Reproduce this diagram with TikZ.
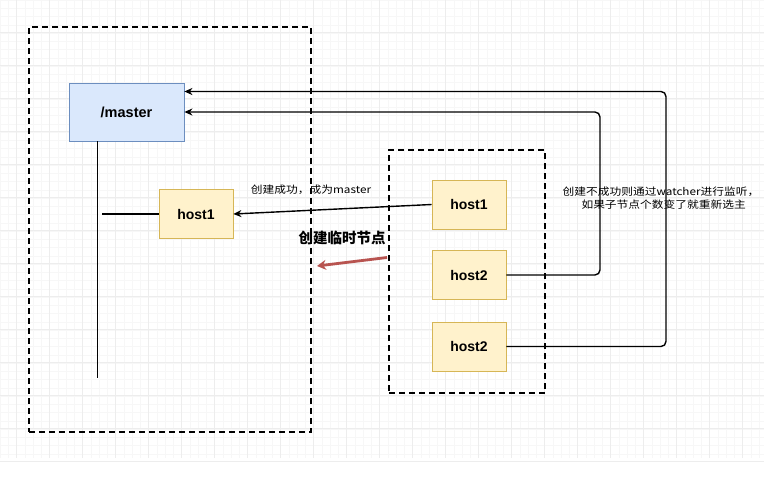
\documentclass[tikz,border=0pt]{standalone}
\usepackage{fontspec}
\setmainfont{Liberation Sans}
\newfontfamily\cjk{Noto Sans CJK SC}
\newfontfamily\cjkwide[FakeStretch=1.15]{Noto Sans CJK SC}
\usetikzlibrary{arrows.meta}
\definecolor{bluefill}{HTML}{DAE8FC}
\definecolor{blueline}{HTML}{6C8EBF}
\definecolor{yelfill}{HTML}{FFF2CC}
\definecolor{yelline}{HTML}{D6B656}
\definecolor{redarrow}{HTML}{B85450}
\definecolor{gridmajor}{HTML}{EDEDED}
\definecolor{gridminor}{HTML}{F7F7F7}
\tikzset{
  hostbox/.style={draw=yelline,fill=yelfill,line width=0.8pt,minimum width=74pt,minimum height=49pt,inner sep=0pt,font=\bfseries\fontsize{14}{16}\selectfont},
  masterbox/.style={draw=blueline,fill=bluefill,line width=0.8pt,minimum width=115pt,minimum height=58pt,inner sep=0pt,font=\bfseries\fontsize{14.5}{16}\selectfont},
  groupbox/.style={draw=black,line width=2.2pt,dash pattern=on 6pt off 4pt},
  conn/.style={draw=black,line width=1.4pt},
  arr/.style={conn,-{Stealth[length=8pt,width=7pt]}},
  lbl/.style={font=\cjkwide\fontsize{10.2}{13}\selectfont,inner sep=0pt,align=center},
}
\begin{document}
\begin{tikzpicture}[x=1pt,y=-1pt]
\useasboundingbox (0,0) rectangle (764,480);
\fill[white] (0,0) rectangle (764,480);
% grid
\foreach \i in {0,...,92} {\draw[gridminor,line width=0.5pt] ({\i*8.25},0) -- ({\i*8.25},458);}
\foreach \j in {0,...,55} {\draw[gridminor,line width=0.5pt] (0,{\j*8.25}) -- (764,{\j*8.25});}
\foreach \i in {0,...,23} {\draw[gridmajor,line width=0.6pt] ({16+\i*33},0) -- ({16+\i*33},458);}
\foreach \j in {0,...,13} {\draw[gridmajor,line width=0.6pt] (0,{32+\j*33}) -- (764,{32+\j*33});}
% group boxes
\node[groupbox,minimum width=282pt,minimum height=405pt,inner sep=0pt] (left) at (170,229.5) {};
\node[groupbox,minimum width=156pt,minimum height=243pt,inner sep=0pt] (right) at (467,271.5) {};
% nodes
\node[masterbox] (master) at (126.5,112) {/master};
\node[hostbox] (lhost) at (196,214) {host1};
\node[hostbox] (rhost1) at (469,204.5) {host1};
\node[hostbox] (rhost2) at (469,275) {host2};
\node[hostbox] (rhost3) at (469,346.5) {host2};
% tree lines
\coordinate (vtop) at (97.5,141);
\coordinate (vbot) at (97.5,378);
\coordinate (hl) at (102,214);
\draw[conn] (vtop) -- (vbot);
\draw[conn] (hl) -- (lhost.west);
% connectors
\draw[arr] (rhost1.west) -- (lhost.east);
\draw[arr,rounded corners=5pt] (rhost2.east) -- (600,275) -- (600,112) -- (master.east);
\draw[arr,rounded corners=5pt] (rhost3.east) -- (666,346.5) -- (666,91.5) -- (master.east |- 0,91.5);
% red arrow
\coordinate (ra1) at (387,257.5);
\coordinate (ra2) at (317,266);
\draw[redarrow,line width=2.8pt,-{Stealth[length=9pt,width=10pt,inset=3pt]}] (ra1) -- (ra2);
% labels
\node[lbl] (l1) at (311,190) {创建成功，成为master};
\node[font=\cjk\bfseries\fontsize{14.5}{16}\selectfont,inner sep=0pt] (l2) at (342,238) {创建临时节点};
\node[lbl] (l3) at (661,198) {创建不成功则通过watcher进行监听，\\ \ \ 如果子节点个数变了就重新选主};
\end{tikzpicture}
\end{document}
